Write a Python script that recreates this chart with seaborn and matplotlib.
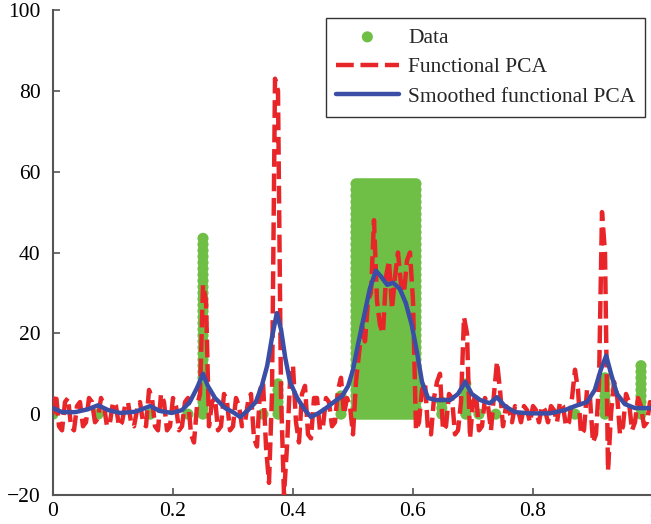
import numpy as np
import pandas as pd
import matplotlib
matplotlib.use("Agg")
import matplotlib.pyplot as plt
import seaborn as sns

# ---------------- data ----------------
# Data: stacked columns of observations (x position, column height)
col_x = [0.000, 0.075, 0.162, 0.225, 0.250, 0.350, 0.375, 0.480,
         0.648, 0.688, 0.710, 0.738, 0.870, 0.920, 0.980]
col_h = [0, 0, 0, 0, 44, 0, 8, 5, 3, 8, 0, 0, 0, 10, 12]
# dense block of observations
block_x = [0.505, 0.510, 0.515, 0.520, 0.525, 0.530, 0.535, 0.540, 0.545,
           0.550, 0.555, 0.560, 0.565, 0.570, 0.575, 0.580, 0.585, 0.590,
           0.595, 0.600, 0.605]
block_h = [58] * len(block_x)

# Functional PCA (red dashed)
fpca_y = [0, 5, -3, -4, 3, 4, -3, -4, 2, 3, -3, -2, 4, 3, -2, -1, 4, 2, -3, -2,
          3, 2, -3, -2, 2, 3, -2, -3, 1, 3, -2, -3, 6, 4, -3, -4, 5, 3, -4, -3,
          4, 2, -4, -3, 3, 4, -5, -7, 2, 5, 32, 28, -3, 3, 4, -4, -3, 5, 3, -4,
          -3, 4, 2, -3, -2, 3, 5, -6, -8, 6, 8, -8, -17, 5, 83, 80, 5, -20, -8, 8,
          12, -2, -7, 5, 7, -5, -6, 4, 4, -4, -3, 4, 3, -3, -2, 6, 9, 0, 4, 2,
          -5, 8, 15, 22, 18, 28, 30, 48, 28, 22, 20, 34, 38, 26, 34, 40, 32, 30, 38, 40,
          28, -4, -2, 6, 8, -4, -5, 4, 8, 10, -4, -3, 5, 4, -5, -4, 3, 24, 20, -6,
          3, 5, -4, -3, 4, 2, -4, 5, 13, 6, -3, 2, 1, -2, 2, 1, -2, 2, 1, -2,
          2, 1, -2, 2, 1, -2, 2, 1, -2, 3, 2, -3, -2, 4, 11, 6, -5, -4, 6, 4,
          -7, -5, 8, 50, 40, -14, 0, 8, 5, -5, -3, 5, 3, -4, -2, 4, 2, -3, -2, 3,
          2]
fpca_x = np.linspace(0, 1, len(fpca_y))

# Smoothed functional PCA (blue)
sm_x = [0.000, 0.015, 0.037, 0.058, 0.075, 0.092, 0.112, 0.137, 0.162, 0.178,
        0.198, 0.215, 0.228, 0.240, 0.250, 0.258, 0.270, 0.287, 0.300, 0.312,
        0.325, 0.338, 0.348, 0.357, 0.365, 0.373, 0.380, 0.387, 0.395, 0.407,
        0.420, 0.430, 0.442, 0.455, 0.468, 0.482, 0.492, 0.500, 0.508, 0.518,
        0.528, 0.538, 0.547, 0.557, 0.567, 0.578, 0.588, 0.598, 0.607, 0.615,
        0.625, 0.638, 0.662, 0.675, 0.687, 0.698, 0.712, 0.728, 0.740, 0.753,
        0.770, 0.795, 0.828, 0.853, 0.870, 0.890, 0.903, 0.913, 0.922, 0.930,
        0.940, 0.953, 0.970, 1.000]
sm_y = [1.5, 0.5, 0.5, 1.2, 2.2, 1.0, 0.3, 0.6, 2.0, 0.8,
        0.3, 1.0, 3.0, 6.5, 10.0, 7.0, 4.0, 1.5, 0.5, -0.7,
        1.0, 3.0, 7.0, 12.0, 19.0, 25.0, 21.0, 14.0, 8.0, 4.0,
        1.0, -0.7, 0.2, 1.5, 3.0, 4.5, 7.0, 11.0, 17.0, 24.0,
        31.0, 35.5, 34.0, 32.0, 32.5, 31.0, 27.5, 22.0, 15.0, 8.0,
        4.0, 3.5, 3.5, 5.0, 8.0, 5.0, 3.5, 2.7, 4.2, 2.0,
        0.5, 0.2, 0.2, 1.0, 2.0, 3.0, 6.0, 11.0, 14.5, 10.0,
        5.0, 2.5, 1.5, 1.5]

xticks = [0, 0.2, 0.4, 0.6, 0.8, 1]
xticklabels = ["0", "0.2", "0.4", "0.6", "0.8", "1"]
yticks = [-20, 0, 20, 40, 60, 80, 100]

# ---------------- expand data columns into stacked dots ----------------
pts_x, pts_y = [], []
for cx, ch in list(zip(col_x, col_h)) + list(zip(block_x, block_h)):
    levels = np.arange(0, ch + 0.01, 1.5) if ch > 0 else np.array([0.0])
    pts_x.extend([cx] * len(levels))
    pts_y.extend(levels)
data_df = pd.DataFrame({"x": pts_x, "y": pts_y})

# ---------------- plot ----------------
sns.set_style("ticks")
plt.rcParams["font.family"] = ["Liberation Serif", "DejaVu Serif"]
plt.rcParams["mathtext.fontset"] = "dejavuserif"

fig = plt.figure(figsize=(6.51, 5.24), dpi=100)
ax = fig.add_axes([53 / 651, 29 / 524, 600 / 651, 485 / 524])

green = "#6fbf47"
red = "#e8262a"
blue = "#3b4ea6"

sns.scatterplot(data=data_df, x="x", y="y", ax=ax, color=green, s=64,
                edgecolor="none", linewidth=0, label="Data", zorder=2)
sns.lineplot(x=fpca_x, y=fpca_y, ax=ax, color=red, linewidth=3.2,
             linestyle=(0, (4, 1.5)), sort=False, estimator=None,
             label="Functional PCA", zorder=3)
sns.lineplot(x=sm_x, y=sm_y, ax=ax, color=blue, linewidth=3.2,
             sort=False, estimator=None, label="Smoothed functional PCA", zorder=4)

ax.set_xlim(0, 1)
ax.set_ylim(-20, 100)
ax.set_xticks(xticks)
ax.set_xticklabels(xticklabels)
ax.set_yticks(yticks)
ax.set_yticklabels(["\u221220"] + [str(v) for v in yticks[1:]])
ax.set_xlabel("")
ax.set_ylabel("")
ax.tick_params(direction="in", length=5, width=1.2, labelsize=15.5, colors="#555555",
               labelcolor="black")
ax.tick_params(axis="y", pad=9)
ax.tick_params(axis="x", pad=5)
for s in ["top", "right"]:
    ax.spines[s].set_visible(False)
for s in ["left", "bottom"]:
    ax.spines[s].set_color("#555555")
    ax.spines[s].set_linewidth(1.5)

leg = ax.legend(loc="upper right", bbox_to_anchor=(0.987, 0.984), borderaxespad=0,
                frameon=True, fancybox=False, fontsize=15.5, handlelength=2.9,
                handletextpad=0.45, borderpad=0.45, labelspacing=0.45, markerscale=1.0)
leg.get_frame().set_edgecolor("black")
leg.get_frame().set_linewidth(1.0)

fig.savefig("out.png", dpi=100)
